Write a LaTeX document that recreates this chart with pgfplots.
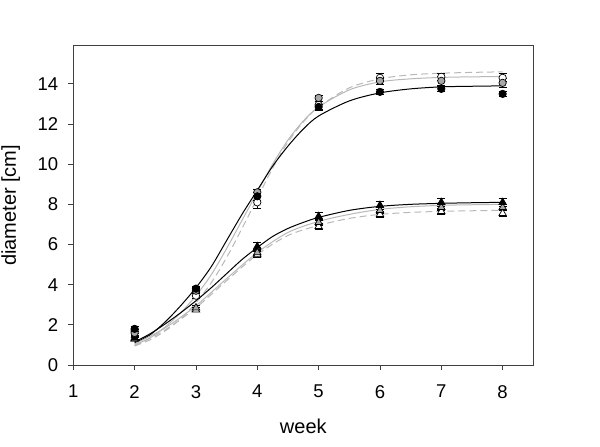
\documentclass[border=0pt]{standalone}
\usepackage{fontspec}
\setmainfont{Liberation Sans}
\usepackage{pgfplots}
\pgfplotsset{compat=1.18}
\definecolor{grm}{HTML}{A8A8A8}
\definecolor{grl}{HTML}{B8B8B8}
\begin{document}
\fontsize{17.5bp}{21bp}\selectfont
\begin{tikzpicture}
\useasboundingbox (0,0) rectangle (600bp,447bp);
\begin{axis}[
 at={(73.3bp,82bp)}, anchor=south west,
 scale only axis, width=460bp, height=319.3bp,
 xmin=1, xmax=8.5, ymin=0, ymax=15.9,
 xtick={1,...,8}, ytick={0,2,...,14},
 axis line style={line width=0.8bp, color=black!75},
 tick style={line width=0.8bp, color=black!75},
 tick align=outside, major tick length=5bp,
 xtick pos=bottom, ytick pos=left,
 /pgf/number format/assume math mode=true,
 ticklabel style={font=\fontsize{18.5bp}{21bp}\selectfont},
 xticklabel style={anchor=north, inner sep=0pt, yshift=-15bp},
 yticklabel style={anchor=east, inner sep=0pt, xshift=-10bp},
 xlabel={week}, ylabel={diameter [cm]},
 label style={font=\fontsize{20bp}{23bp}\selectfont},
 xlabel style={at={([yshift=-68bp]axis description cs:0.5,0)}, anchor=base},
 ylabel style={at={([xshift=-57.3bp]axis description cs:0,0.5)}, anchor=base, rotate=0},
 clip=false,
 error bars/error bar style={line width=0.7bp, black},
 error bars/error mark options={rotate=90, mark size=4bp, line width=0.7bp, black},
]
% ---- fitted curves, big group
\addplot[grl, line width=1bp, dash pattern=on 7bp off 4bp, smooth] coordinates {(2,0.95)(2.25,1.25)(2.5,1.7)(2.75,2.3)(3,3.1)(3.25,4.1)(3.5,5.35)(3.75,6.8)(4,8.3)(4.25,9.8)(4.5,11.1)(4.75,12.1)(5,12.85)(5.5,13.8)(6,14.25)(6.5,14.45)(7,14.53)(7.5,14.57)(8,14.6)};
\addplot[grl, line width=1bp, smooth] coordinates {(2,1.0)(2.25,1.35)(2.5,1.9)(2.75,2.6)(3,3.45)(3.25,4.5)(3.5,5.8)(3.75,7.2)(4,8.6)(4.25,10.0)(4.5,11.2)(4.75,12.15)(5,12.85)(5.5,13.7)(6,14.1)(6.5,14.25)(7,14.32)(7.5,14.35)(8,14.36)};
\addplot[black, line width=1bp, smooth] coordinates {(2,1.1)(2.25,1.5)(2.5,2.15)(2.75,2.95)(3,3.85)(3.25,4.9)(3.5,6.2)(3.75,7.5)(4,8.7)(4.25,9.9)(4.5,10.9)(4.75,11.75)(5,12.4)(5.5,13.15)(6,13.55)(6.5,13.75)(7,13.85)(7.5,13.88)(8,13.9)};
% ---- fitted curves, small group
\addplot[grl, line width=1bp, dash pattern=on 7bp off 4bp, smooth] coordinates {(2,0.95)(2.5,1.75)(3,2.85)(3.5,4.2)(4,5.5)(4.5,6.45)(5,6.95)(5.5,7.3)(6,7.5)(6.5,7.6)(7,7.65)(7.5,7.68)(8,7.7)};
\addplot[grl, line width=1bp, smooth] coordinates {(2,1.05)(2.5,1.85)(3,2.95)(3.5,4.3)(4,5.6)(4.5,6.6)(5,7.15)(5.5,7.5)(6,7.75)(6.5,7.88)(7,7.95)(7.5,7.98)(8,8.0)};
\addplot[black, line width=1bp, smooth] coordinates {(2,1.15)(2.25,1.55)(2.5,2.05)(2.75,2.6)(3,3.2)(3.25,3.85)(3.5,4.55)(3.75,5.25)(4,5.85)(4.25,6.4)(4.5,6.8)(4.75,7.1)(5,7.35)(5.5,7.7)(6,7.9)(6.5,8.0)(7,8.05)(7.5,8.08)(8,8.1)};
% ---- open triangles
\addplot[only marks, mark=triangle*, mark size=4.3bp, mark options={fill=white, draw=black, line width=0.7bp},
 error bars/.cd, y dir=both, y explicit] table[row sep=\\, x=x, y=y, y error=e] {
x y e\\ 2 1.3 0.08\\ 3 2.75 0.1\\ 4 5.5 0.15\\ 5 6.9 0.15\\ 6 7.5 0.15\\ 7 7.65 0.15\\ 8 7.55 0.15\\};
% ---- grey triangles
\addplot[only marks, mark=triangle*, mark size=4.3bp, mark options={fill=grm, draw=black, line width=0.7bp},
 error bars/.cd, y dir=both, y explicit] table[row sep=\\, x=x, y=y, y error=e] {
x y e\\ 2 1.3 0.08\\ 3 2.85 0.1\\ 4 5.6 0.15\\ 5 7.1 0.15\\ 6 7.7 0.15\\ 7 7.85 0.15\\ 8 7.85 0.15\\};
% ---- black triangles
\addplot[only marks, mark=triangle*, mark size=4.3bp, mark options={fill=black, draw=black, line width=0.7bp},
 error bars/.cd, y dir=both, y explicit] table[row sep=\\, x=x, y=y, y error=e] {
x y e\\ 2 1.35 0.08\\ 3 3.75 0.12\\ 4 5.9 0.2\\ 5 7.4 0.2\\ 6 7.95 0.2\\ 7 8.1 0.18\\ 8 8.1 0.2\\};
% ---- open circles
\addplot[only marks, mark=*, mark size=3.7bp, mark options={fill=white, draw=black, line width=0.7bp},
 error bars/.cd, y dir=both, y explicit] table[row sep=\\, x=x, y=y, y error=e] {
x y e\\ 2 1.7 0.1\\ 3 3.45 0.15\\ 4 8.1 0.3\\ 5 12.95 0.2\\ 6 14.3 0.2\\ 7 14.35 0.18\\ 8 14.3 0.2\\};
% ---- grey circles
\addplot[only marks, mark=*, mark size=3.7bp, mark options={fill=grm, draw=black, line width=0.7bp},
 error bars/.cd, y dir=both, y explicit] table[row sep=\\, x=x, y=y, y error=e] {
x y e\\ 2 1.6 0.1\\ 3 3.7 0.12\\ 4 8.6 0.15\\ 5 13.3 0.15\\ 6 14.15 0.15\\ 7 14.15 0.2\\ 8 14.05 0.2\\};
% ---- black circles
\addplot[only marks, mark=*, mark size=3.7bp, mark options={fill=black, draw=black, line width=0.7bp},
 error bars/.cd, y dir=both, y explicit] table[row sep=\\, x=x, y=y, y error=e] {
x y e\\ 2 1.8 0.1\\ 3 3.8 0.1\\ 4 8.4 0.2\\ 5 12.85 0.15\\ 6 13.6 0.12\\ 7 13.75 0.12\\ 8 13.5 0.12\\};
\end{axis}
\end{tikzpicture}
\end{document}
